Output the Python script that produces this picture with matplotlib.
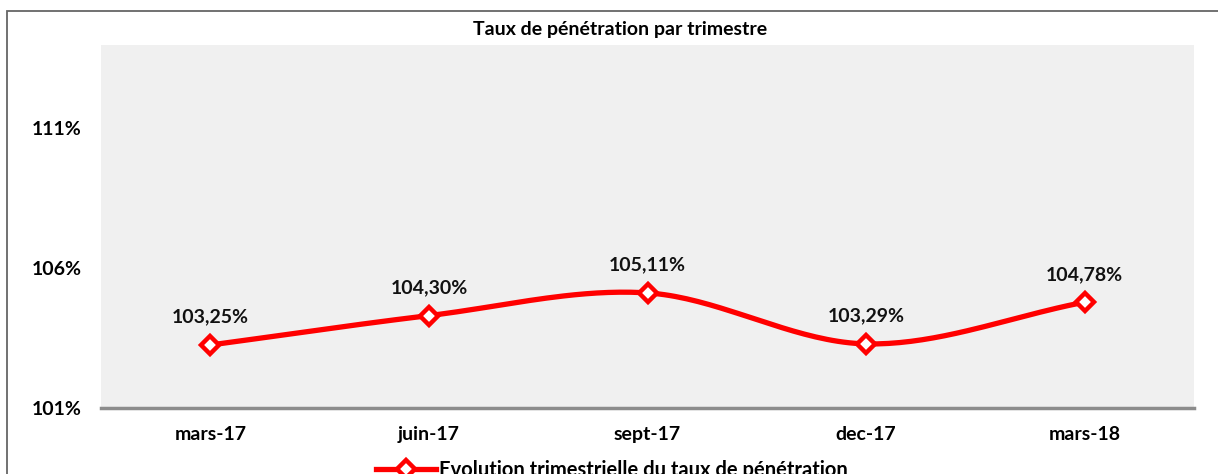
import numpy as np
import matplotlib.pyplot as plt
from matplotlib.patches import Rectangle
from matplotlib.lines import Line2D

plt.rcParams['font.family'] = ['Lato', 'DejaVu Sans']

# data
quarters = ['mars-17', 'juin-17', 'sept-17', 'dec-17', 'mars-18']
taux = [103.25, 104.30, 105.11, 103.29, 104.78]
labels = ['103,25%', '104,30%', '105,11%', '103,29%', '104,78%']
yticks = [101, 106, 111]
ytick_labels = ['101%', '106%', '111%']


def smooth(xs, ys, n=40):
    # Catmull-Rom style curve, like Excel's smoothed line
    xs = np.asarray(xs, float)
    ys = np.asarray(ys, float)
    px = np.concatenate([[2 * xs[0] - xs[1]], xs, [2 * xs[-1] - xs[-2]]])
    py = np.concatenate([[2 * ys[0] - ys[1]], ys, [2 * ys[-1] - ys[-2]]])
    outx, outy = [], []
    t = np.linspace(0, 1, n)
    for i in range(1, len(px) - 2):
        for p, out in ((px, outx), (py, outy)):
            p0, p1, p2, p3 = p[i - 1], p[i], p[i + 1], p[i + 2]
            c1 = p1 + (p2 - p0) / 6
            c2 = p2 - (p3 - p1) / 6
            b = ((1 - t) ** 3 * p1 + 3 * (1 - t) ** 2 * t * c1
                 + 3 * (1 - t) * t ** 2 * c2 + t ** 3 * p2)
            out.extend(b)
    return np.array(outx), np.array(outy)


W, H = 1218, 474
fig = plt.figure(figsize=(W / 100, H / 100), dpi=100)
ax = fig.add_axes([101 / W, 1 - 408 / H, (1194 - 101) / W, (408 - 45) / H])
ax.set_facecolor('#f0f0f0')

x = np.arange(len(quarters))
sx, sy = smooth(x, taux)
ax.plot(sx, sy, color='#ff0000', lw=3.8, solid_capstyle='round', zorder=3)
ax.plot(x, taux, ls='none', marker='D', ms=9, mfc='white', mec='#ff0000',
        mew=3.2, zorder=4)

for xi, yi, lab in zip(x, taux, labels):
    ax.annotate(lab, (xi, yi), xytext=(0, 20), textcoords='offset points',
                ha='center', va='center', fontsize=14, fontweight='bold',
                color='#111111')

ax.set_xlim(-0.5, len(quarters) - 0.5)
ax.set_ylim(101, 101 + 363 / 28)
ax.set_xticks(x)
ax.set_xticklabels(quarters, fontsize=14, fontweight='bold')
ax.set_yticks(yticks)
ax.set_yticklabels(ytick_labels, fontsize=14, fontweight='bold')
ax.tick_params(length=0, pad=13, axis='x')
ax.tick_params(length=0, pad=14, axis='y')
for s in ['top', 'right', 'left']:
    ax.spines[s].set_visible(False)
ax.spines['bottom'].set_color('#8c8c8c')
ax.spines['bottom'].set_linewidth(2.5)

fig.text(620 / W, 1 - 30 / H, 'Taux de pénétration par trimestre',
         ha='center', va='center', fontsize=14, fontweight='bold')

# outer border (cut off at right and bottom)
fig.patches.append(Rectangle((7 / W, -0.1), 1.2, 1 - 11 / H + 0.1,
                             transform=fig.transFigure, fill=False,
                             ec='#666666', lw=1.3))

handle = Line2D([], [], color='#ff0000', lw=3.8, marker='D', ms=9,
                mfc='white', mec='#ff0000', mew=3.2)
fig.legend([handle], ['Evolution trimestrielle du taux de pénétration'],
           loc='center', bbox_to_anchor=(612 / W, 1 - 470 / H), frameon=False,
           prop={'size': 14.5, 'weight': 'bold'}, handlelength=3.0,
           handletextpad=0.15)

fig.savefig('out.png', dpi=100)
